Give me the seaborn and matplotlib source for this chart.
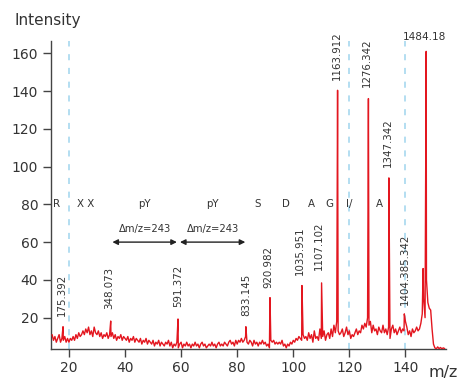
import numpy as np
import matplotlib
matplotlib.use("Agg")
import matplotlib.pyplot as plt
import seaborn as sns

# baseline noise, one value every 0.5 from x=14
noise = [
    11, 8, 10, 7, 9, 11, 7, 9, 8, 10, 7, 9,
    7, 9, 8, 10, 8, 11, 9, 12, 10, 11,
    13, 11, 14, 12, 15, 11, 13, 10, 15, 12,
    11, 13, 10, 12, 9, 11, 10, 12, 9, 11,
    10, 12, 9, 11, 8, 10, 9, 11, 8, 10,
    9, 8, 10, 7, 9, 8, 10, 7, 9, 8,
    7, 9, 6, 8, 7, 9, 6, 8, 7, 6,
    8, 5, 7, 6, 8, 5, 7, 6, 5, 7,
    6, 8, 5, 7, 4, 6, 5, 7, 4, 6,
    7, 4, 6, 5, 7, 5, 6, 4, 6, 5,
    7, 5, 6, 4, 6, 7, 5, 6, 4, 5,
    6, 5, 7, 5, 6, 4, 6, 7, 5, 6,
    5, 7, 6, 5, 7, 8, 6, 7, 5, 8,
    6, 8, 7, 9, 7, 8, 10, 7, 6, 8,
    7, 5, 8, 6, 7, 5, 7, 6, 8, 6,
    7, 5, 6, 4, 8, 7, 8, 6, 7, 6,
    7, 6, 8, 5, 6, 4, 6, 5, 7, 6,
    8, 7, 9, 8, 10, 9, 8, 11, 9, 10,
    8, 12, 9, 11, 7, 13, 9, 10, 8, 14,
    9, 10, 13, 8, 11, 12, 9, 14, 10, 16,
    12, 18, 13, 11, 12, 14, 10, 12, 15, 11,
    13, 9, 11, 10, 12, 14, 11, 13, 12, 16,
    14, 17, 15, 20, 16, 18, 12, 16, 13, 14,
    11, 15, 13, 12, 16, 12, 14, 11, 15, 9,
    14, 16, 12, 14, 11, 13, 15, 12, 14, 13,
    18, 15, 11, 13, 10, 14, 12, 13, 15, 13,
    14, 17, 22, 30, 20, 40, 28, 25, 24, 14,
    6, 4, 3.5, 4.5, 3.6, 4.2, 3.5, 4, 3.6,
]
noise_x = 14 + 0.5 * np.arange(len(noise))

# peaks (x, height)
peak_x = [17.9, 34.9, 58.9, 83.1, 91.7, 103.1, 110.1, 115.8, 126.8, 134.1, 139.6, 146.3, 147.4]
peak_y = [15.2, 18.2, 19.3, 15.2, 30.6, 37.0, 38.4, 140.4, 136.0, 94.0, 22.0, 46.0, 161.0]

# peak annotations
label_text = ["175.392", "348.073", "591.372", "833.145", "920.982", "1035.951",
              "1107.102", "1163.912", "1276.342", "1347.342", "1404.385.342"]
label_x = [17.5, 34.5, 59.0, 83.3, 91.1, 102.4, 109.2, 115.6, 126.3, 133.7, 139.9]
label_y = [20.9, 24.5, 25.8, 20.9, 35.6, 42.7, 45.3, 146.0, 141.9, 100.0, 26.7]

# residues
residues = ["R", "X X", "pY", "pY", "S", "D", "A", "G", "I/", "A"]
residue_x = [15.7, 26.0, 46.9, 71.3, 87.3, 97.5, 106.4, 112.9, 119.8, 130.6]

x = np.concatenate([noise_x, peak_x])
y = np.concatenate([noise, peak_y])
order = np.argsort(x, kind="stable")
x, y = x[order], y[order]

sns.set_style("ticks")
plt.rcParams["font.family"] = ["DejaVu Sans"]
text_c = "#333333"

fig = plt.figure(figsize=(4.58, 3.82), dpi=100)
ax = fig.add_axes([0.1107, 0.0864, 0.8633, 0.8063])

for v in [20, 120, 140]:
    ax.axvline(v, color="#9fd5ee", lw=1.1, ls=(0, (4, 5)), zorder=1)

sns.lineplot(x=x, y=y, ax=ax, color="#e3161f", lw=1, sort=False,
             estimator=None, zorder=3)

for t, lx, ly in zip(label_text, label_x, label_y):
    ax.text(lx, ly, t, rotation=90, ha="center", va="bottom", fontsize=7.4, color=text_c)
ax.text(146.8, 168.5, "1484.18", ha="center", va="center", fontsize=7.6,
        color=text_c, clip_on=False)

for r, rx in zip(residues, residue_x):
    ax.text(rx, 80, r, ha="center", va="center", fontsize=7.4, color=text_c)

for x0, x1 in [(35.5, 58.5), (59.6, 82.9)]:
    ax.annotate("", xy=(x1, 60), xytext=(x0, 60),
                arrowprops=dict(arrowstyle="<|-|>", color="#222222", lw=1,
                                mutation_scale=8, shrinkA=0, shrinkB=0))
    ax.text((x0 + x1) / 2, 66.9, "Δm/z=243", ha="center", va="center",
            fontsize=7.2, color=text_c)

ax.set_xlim(13.5, 154.5)
ax.set_ylim(3.4, 166.5)
ax.set_xticks([20, 40, 60, 80, 100, 120, 140])
ax.set_yticks([20, 40, 60, 80, 100, 120, 140, 160])
ax.tick_params(length=6, width=1, colors="#444444", labelcolor=text_c, labelsize=10, pad=3)
ax.set_xlabel("")
ax.set_ylabel("")
sns.despine(ax=ax)
for s in ["left", "bottom"]:
    ax.spines[s].set_color("#444444")
    ax.spines[s].set_linewidth(1)

fig.text(14 / 458, 1 - 20 / 382, "Intensity", ha="left", va="center", fontsize=11, color=text_c)
fig.text(429 / 458, 1 - 372 / 382, "m/z", ha="left", va="center", fontsize=11.5, color=text_c)

fig.savefig("out.png", dpi=100)
